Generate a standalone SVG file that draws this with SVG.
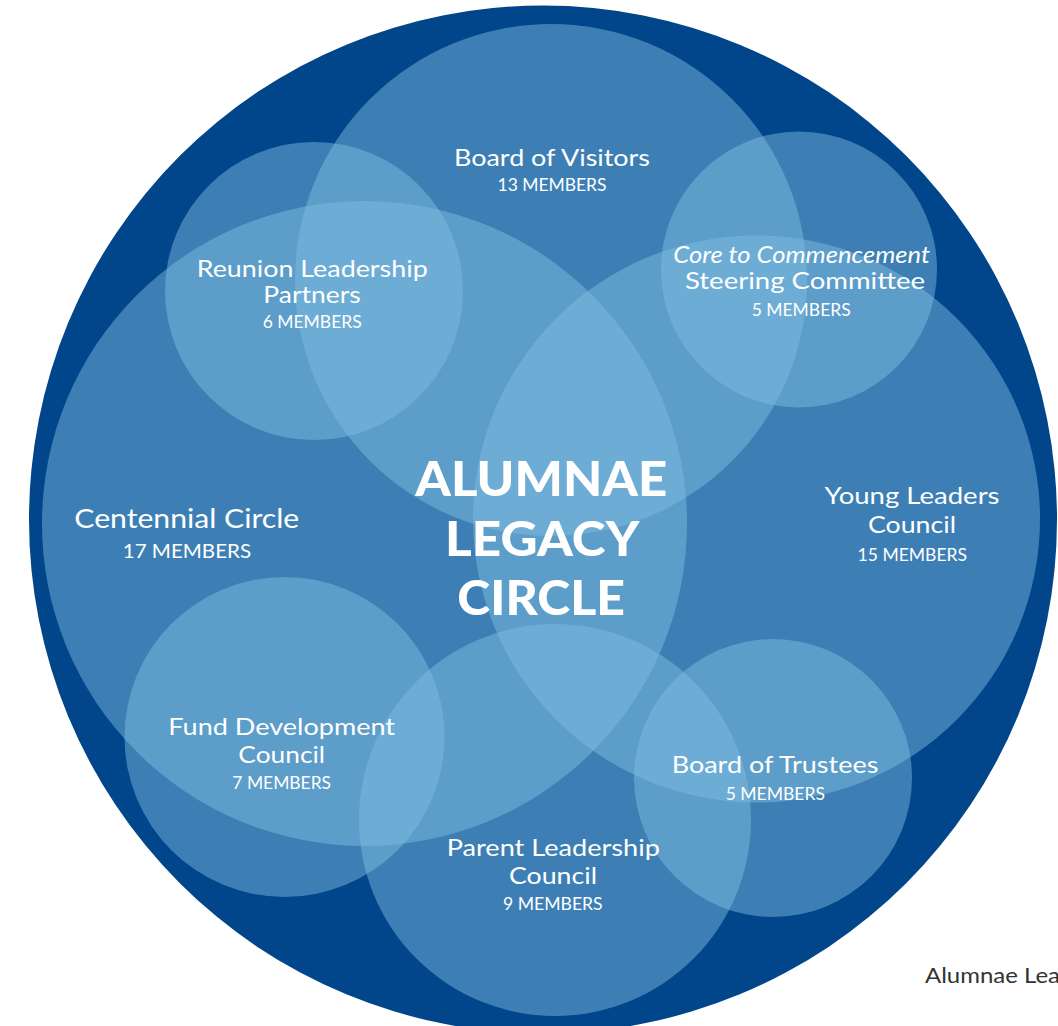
<svg xmlns="http://www.w3.org/2000/svg" width="1058" height="1026" viewBox="0 0 1058 1026">
<style>
.c{fill:#80bfe1;fill-opacity:0.48}
text{font-family:Lato,"Open Sans","Liberation Sans",sans-serif;fill:#ffffff;text-anchor:middle}
.n{font-size:23.5px}
.m{font-size:16.3px}
.big{font-size:27.5px}
.bm{font-size:19.5px}
.t{font-size:48px;font-weight:900}
.it{font-style:italic}
.note{font-size:22px;fill:#333333;text-anchor:start}
</style>
<rect width="1058" height="1026" fill="#ffffff"/>
<g id="outer-circle"><circle cx="543" cy="519.5" r="514" fill="#01468a"/></g>
<g id="circles">
<g id="board-of-visitors"><circle class="c" cx="551" cy="280" r="256"/></g>
<g id="reunion-leadership-partners"><circle class="c" cx="314" cy="291" r="149"/></g>
<g id="core-to-commencement"><circle class="c" cx="799" cy="269.5" r="138"/></g>
<g id="centennial-circle"><circle class="c" cx="364.5" cy="523.5" r="322.5"/></g>
<g id="young-leaders-council"><circle class="c" cx="756.5" cy="519" r="283.5"/></g>
<g id="fund-development-council"><circle class="c" cx="284.5" cy="737" r="160"/></g>
<g id="parent-leadership-council"><circle class="c" cx="555" cy="820" r="196"/></g>
<g id="board-of-trustees"><circle class="c" cx="773" cy="778" r="139"/></g>
</g>
<g id="labels">
<g id="label-board-of-visitors">
<text class="n" x="552" y="165.5" textLength="196" lengthAdjust="spacingAndGlyphs">Board of Visitors</text>
<text class="m" x="552" y="191" textLength="109" lengthAdjust="spacingAndGlyphs">13 MEMBERS</text>
</g>
<g id="label-reunion-leadership-partners">
<text class="n" x="312.2" y="276.7" textLength="231" lengthAdjust="spacingAndGlyphs">Reunion Leadership</text>
<text class="n" x="312" y="302.7" textLength="97.4" lengthAdjust="spacingAndGlyphs">Partners</text>
<text class="m" x="312.2" y="328.3" textLength="99" lengthAdjust="spacingAndGlyphs">6 MEMBERS</text>
</g>
<g id="label-core-to-commencement">
<text class="n it" x="801.7" y="262.7" textLength="256.7" lengthAdjust="spacingAndGlyphs">Core to Commencement</text>
<text class="n" x="805" y="289.3" textLength="240" lengthAdjust="spacingAndGlyphs">Steering Committee</text>
<text class="m" x="801.2" y="316" textLength="99" lengthAdjust="spacingAndGlyphs">5 MEMBERS</text>
</g>
<g id="label-centennial-circle">
<text class="big" x="186.8" y="527.7" textLength="225" lengthAdjust="spacingAndGlyphs">Centennial Circle</text>
<text class="bm" x="186.9" y="558.3" textLength="128.3" lengthAdjust="spacingAndGlyphs">17 MEMBERS</text>
</g>
<g id="label-title">
<text class="t" x="541.2" y="496" textLength="252" lengthAdjust="spacingAndGlyphs">ALUMNAE</text>
<text class="t" x="542.2" y="556" textLength="194.3" lengthAdjust="spacingAndGlyphs">LEGACY</text>
<text class="t" x="541.2" y="615" textLength="167.7" lengthAdjust="spacingAndGlyphs">CIRCLE</text>
</g>
<g id="label-young-leaders-council">
<text class="n" x="912" y="504" textLength="175" lengthAdjust="spacingAndGlyphs">Young Leaders</text>
<text class="n" x="912" y="533" textLength="88" lengthAdjust="spacingAndGlyphs">Council</text>
<text class="m" x="912.3" y="561" textLength="109.4" lengthAdjust="spacingAndGlyphs">15 MEMBERS</text>
</g>
<g id="label-fund-development-council">
<text class="n" x="281.7" y="735" textLength="226.7" lengthAdjust="spacingAndGlyphs">Fund Development</text>
<text class="n" x="281.7" y="762.7" textLength="86.7" lengthAdjust="spacingAndGlyphs">Council</text>
<text class="m" x="281.7" y="789.3" textLength="98.7" lengthAdjust="spacingAndGlyphs">7 MEMBERS</text>
</g>
<g id="label-board-of-trustees">
<text class="n" x="775" y="773.3" textLength="206.7" lengthAdjust="spacingAndGlyphs">Board of Trustees</text>
<text class="m" x="775.3" y="800" textLength="99.3" lengthAdjust="spacingAndGlyphs">5 MEMBERS</text>
</g>
<g id="label-parent-leadership-council">
<text class="n" x="553.3" y="856" textLength="213.3" lengthAdjust="spacingAndGlyphs">Parent Leadership</text>
<text class="n" x="553" y="883.5" textLength="88" lengthAdjust="spacingAndGlyphs">Council</text>
<text class="m" x="552.8" y="909.7" textLength="99.6" lengthAdjust="spacingAndGlyphs">9 MEMBERS</text>
</g>
<g id="caption">
<text class="note" x="925" y="983.3" textLength="135" lengthAdjust="spacingAndGlyphs">Alumnae Lea</text>
</g>
</g>
</svg>
